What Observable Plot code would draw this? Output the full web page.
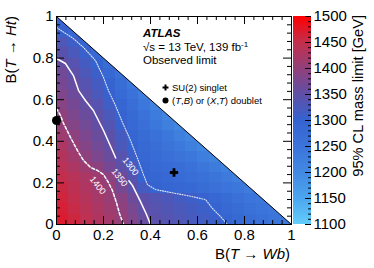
<!DOCTYPE html>
<html><head><meta charset="utf-8">
<script src="https://cdn.jsdelivr.net/npm/d3@7"></script>
<script src="https://cdn.jsdelivr.net/npm/@observablehq/plot@0.6"></script>
<style>
body{margin:0;background:#fff;}
#wrap{position:relative;width:374px;height:268px;overflow:hidden;font-family:"Liberation Sans",Arial,Helvetica,sans-serif;}
#wrap svg{position:absolute;top:0;}
</style></head><body><div id="wrap"></div>
<script>
// 95% CL mass limit [GeV], cells of 0.05 x 0.05; rows from B(T->Ht)=0 upward, columns from B(T->Wb)=0
const step = 0.05;
const r00 = [1470,1458,1445,1430,1416,1400,1380,1357,1345,1337,1330,1322,1315,1306,1295,1283,1270,1258,1248,1240];
const r01 = [1465,1453,1440,1426,1411,1396,1374,1349,1340,1333,1325,1318,1309,1296,1284,1272,1260,1250,1240];
const r02 = [1460,1448,1434,1420,1406,1390,1362,1344,1335,1327,1318,1310,1301,1287,1274,1262,1250,1240];
const r03 = [1455,1442,1428,1414,1402,1372,1348,1318,1297,1292,1287,1281,1272,1262,1251,1240,1230];
const r04 = [1450,1437,1424,1410,1394,1364,1338,1299,1290,1284,1277,1268,1258,1247,1235,1224];
const r05 = [1440,1425,1410,1394,1372,1347,1324,1295,1285,1277,1268,1258,1246,1233,1220];
const r06 = [1432,1414,1396,1378,1360,1340,1310,1288,1277,1266,1254,1240,1226,1212];
const r07 = [1425,1404,1386,1368,1352,1326,1300,1282,1268,1254,1238,1222,1206];
const r08 = [1412,1394,1377,1360,1345,1320,1292,1274,1258,1240,1222,1204];
const r09 = [1402,1385,1368,1353,1335,1305,1284,1264,1244,1224,1205];
const r10 = [1396,1378,1361,1347,1326,1298,1278,1256,1234,1210];
const r11 = [1388,1372,1354,1338,1312,1290,1268,1244,1218];
const r12 = [1380,1362,1346,1325,1302,1280,1256,1230];
const r13 = [1372,1356,1338,1318,1296,1272,1244];
const r14 = [1366,1348,1328,1308,1286,1258];
const r15 = [1354,1338,1318,1298,1270];
const r16 = [1342,1325,1305,1280];
const r17 = [1330,1310,1290];
const r18 = [1305,1285];
const r19 = [1290];
const rows = [r00,r01,r02,r03,r04,r05,r06,r07,r08,r09,r10,r11,r12,r13,r14,r15,r16,r17,r18,r19];

// contour lines: [B(T->Wb), B(T->Ht)]
const c1300 = [[0,0.947],[0.072,0.894],[0.115,0.851],[0.166,0.788],[0.2,0.707],[0.221,0.644],[0.251,0.572],[0.281,0.49],[0.315,0.404],[0.345,0.317],[0.37,0.24],[0.387,0.192],[0.421,0.168],[0.485,0.154],[0.557,0.139],[0.634,0.12],[0.664,0.077],[0.698,0.038],[0.728,0]];
const c1350a = [[0,0.798],[0.038,0.774],[0.072,0.716],[0.094,0.644],[0.123,0.596],[0.157,0.548],[0.2,0.452],[0.238,0.356],[0.252,0.32]];
const c1350b = [[0.308,0.21],[0.323,0.188],[0.357,0.111],[0.383,0.048],[0.40,0]];
const c1400 = [[0,0.558],[0.017,0.524],[0.03,0.486],[0.06,0.418],[0.089,0.356],[0.115,0.308],[0.145,0.274],[0.174,0.26],[0.2,0.24],[0.221,0.202],[0.238,0.163],[0.255,0.106],[0.268,0.053],[0.285,0]];
const contourLabels = [{x:0.315,y:0.279,t:"1300"},{x:0.268,y:0.226,t:"1350"},{x:0.175,y:0.188,t:"1400"}];

const singletPoint = [0.5, 0.25];
const doubletPoint = [0, 0.5];

const xMajor = [0,0.2,0.4,0.6,0.8,1];
const yMajor = [0,0.2,0.4,0.6,0.8,1];
const minorTicks = d3.range(0,1.0001,0.04).filter(v => Math.abs(v/0.2 - Math.round(v/0.2)) > 1e-6);
const cbMajor = [1100,1150,1200,1250,1300,1350,1400,1450,1500];
const cbMinor = d3.range(1100,1501,10).filter(v => v % 50 !== 0);
const colorStops = ["#62cdfa","#4ca6ee","#4289e2","#3b74da","#3563d0","#604fa6","#93407a","#c42e4c","#ff0000"];

const cells = [];
rows.forEach((row,j) => row.forEach((v,i) => cells.push({x1:i*step, x2:(i+1)*step, y1:j*step, y2:(j+1)*step, v})));

const colorOpts = {type:"linear", domain:[1100,1500], interpolate:d3.piecewise(d3.interpolateRgb, colorStops), clamp:true};
const FONT = "Liberation Sans, Arial, Helvetica, sans-serif";
const fmt = d => String(d);

const main = Plot.plot({
  width:300, height:268, marginLeft:56, marginRight:9, marginTop:16, marginBottom:44,
  style:{background:"transparent", overflow:"visible", fontFamily:FONT},
  x:{domain:[0,1]}, y:{domain:[0,1]}, color:colorOpts,
  marks:[
    Plot.rect(cells, {x1:"x1", x2:"x2", y1:"y1", y2:"y2", fill:"v", shapeRendering:"crispEdges"}),
    Plot.areaY([{x:0,y1:1,y2:1},{x:1,y1:0,y2:1}], {x:"x", y1:"y1", y2:"y2", fill:"white"}),
    Plot.line(c1300, {x:d=>d[0], y:d=>d[1], stroke:"white", strokeWidth:1.1, strokeDasharray:"1,1.5", strokeOpacity:0.85}),
    Plot.line(c1350a, {x:d=>d[0], y:d=>d[1], stroke:"white", strokeWidth:1.5}),
    Plot.line(c1350b, {x:d=>d[0], y:d=>d[1], stroke:"white", strokeWidth:1.5}),
    Plot.line(c1400, {x:d=>d[0], y:d=>d[1], stroke:"white", strokeWidth:1.5, strokeDasharray:"3,2"}),
    Plot.text(contourLabels, {x:"x", y:"y", text:"t", rotate:52, fill:"white", fontSize:9, fontFamily:FONT}),
    Plot.line([0,1], {x:d=>d, y:d=>1-d, stroke:"black", strokeWidth:1}),
    Plot.dot([singletPoint], {x:d=>d[0], y:d=>d[1], symbol:"cross", r:3.5, fill:"black"}),
    Plot.dot([doubletPoint], {x:d=>d[0], y:d=>d[1], r:4.5, fill:"black"}),
    Plot.dot([0], {frameAnchor:"top-left", dx:109, dy:71, symbol:"cross", r:2.5, fill:"black"}),
    Plot.dot([0], {frameAnchor:"top-left", dx:109, dy:84, r:3, fill:"black"}),
    Plot.ruleX(xMajor, {insetTop:200, stroke:"black"}),
    Plot.ruleX(xMajor, {insetBottom:200, stroke:"black"}),
    Plot.ruleX(minorTicks, {insetTop:204, stroke:"black"}),
    Plot.ruleX(minorTicks, {insetBottom:204, stroke:"black"}),
    Plot.ruleY(yMajor, {insetRight:227, stroke:"black"}),
    Plot.ruleY(yMajor, {insetLeft:227, stroke:"black"}),
    Plot.ruleY(minorTicks, {insetRight:231, stroke:"black"}),
    Plot.ruleY(minorTicks, {insetLeft:231, stroke:"black"}),
    Plot.frame({stroke:"black", strokeWidth:1}),
    Plot.axisX(xMajor, {tickSize:0, tickPadding:5, fontSize:15, label:null, tickFormat:fmt, fill:"black"}),
    Plot.axisY(yMajor, {tickSize:0, tickPadding:3, fontSize:15, label:null, tickFormat:fmt, fill:"black"})
  ]
});
main.style.left = "0px";

const cbValues = d3.range(1100,1500,1);
const bar = Plot.plot({
  width:83, height:268, marginLeft:2, marginRight:63, marginTop:16, marginBottom:44,
  style:{background:"transparent", overflow:"visible", fontFamily:FONT},
  x:{domain:[0,1], axis:null}, y:{domain:[1100,1500]}, color:colorOpts,
  marks:[
    Plot.rect(cbValues, {x1:0, x2:1, y1:d=>d, y2:d=>d+1, fill:d=>d+0.5, shapeRendering:"crispEdges"}),
    Plot.ruleY(cbMajor, {insetLeft:12, stroke:"black"}),
    Plot.ruleY(cbMinor, {insetLeft:15, stroke:"black"}),
    Plot.axisY(cbMajor, {anchor:"right", tickSize:0, tickPadding:2, fontSize:15, label:null, tickFormat:fmt, fill:"black"})
  ]
});
bar.style.left = "291px";

const wrap = document.getElementById("wrap");
wrap.appendChild(main);
wrap.appendChild(bar);

const ff = `font-family="${FONT}"`;
main.insertAdjacentHTML("beforeend", `
<g fill="black" ${ff} text-anchor="start">
  <text transform="translate(16,16) rotate(-90)" text-anchor="end" font-size="15">B(<tspan font-style="italic">T</tspan> → <tspan font-style="italic">Ht</tspan>)</text>
  <text x="290" y="259" text-anchor="end" font-size="15">B(<tspan font-style="italic">T</tspan> → <tspan font-style="italic">Wb</tspan>)</text>
  <text x="143" y="37" font-size="11.5" font-weight="bold" font-style="italic">ATLAS</text>
  <text x="143" y="51" font-size="11.5">√s = 13 TeV, 139 fb<tspan dy="-4.5" font-size="8">-1</tspan></text>
  <text x="143" y="64" font-size="11.5">Observed limit</text>
  <text x="172" y="91" font-size="9.5">SU(2) singlet</text>
  <text x="172" y="104" font-size="9.5">(<tspan font-style="italic">T</tspan>,<tspan font-style="italic">B</tspan>) or (<tspan font-style="italic">X</tspan>,<tspan font-style="italic">T</tspan>) doublet</text>
</g>`);
bar.insertAdjacentHTML("beforeend", `
<text transform="translate(72,15) rotate(-90)" text-anchor="end" font-size="14.6" fill="black" ${ff}>95% CL mass limit [GeV]</text>`);
</script>
</body></html>
